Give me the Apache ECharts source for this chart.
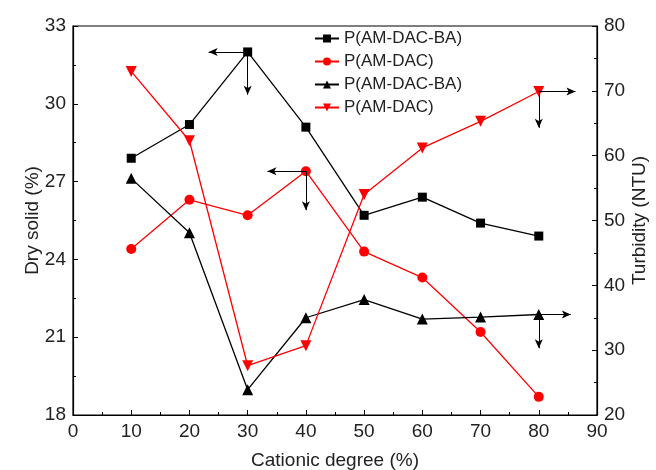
<!DOCTYPE html>
<html>
<head>
<meta charset="utf-8">
<script src="https://cdn.jsdelivr.net/npm/echarts@6/dist/echarts.min.js"></script>
<style>
  html, body { margin: 0; padding: 0; background: #fff; }
  #chart { width: 656px; height: 470px; }
</style>
</head>
<body>
<div id="chart"></div>
<script>
const degrees = [10, 20, 30, 40, 50, 60, 70, 80];
const drySolidBA = [27.9, 29.2, 32.0, 29.1, 25.7, 26.4, 25.4, 24.9];
const drySolidDAC = [24.4, 26.3, 25.7, 27.4, 24.3, 23.3, 21.2, 18.7];
const turbidityBA = [56.5, 48.1, 23.9, 35.0, 37.8, 34.8, 35.1, 35.5];
const turbidityDAC = [73.0, 62.3, 27.6, 30.7, 54.0, 61.2, 65.3, 69.9];

const font = 'Liberation Sans, Arial, sans-serif';
const pairs = vals => degrees.map((d, i) => [d, vals[i]]);

// arrows pointing to the axis each curve belongs to
const arrow = (from, to) => [{ coord: from }, { coord: to }];
const arrowStyle = {
  silent: true,
  symbol: ['none', 'arrow'],
  symbolSize: [6, 9],
  label: { show: false },
  lineStyle: { color: '#000', width: 1, type: 'solid' }
};

const chart = echarts.init(document.getElementById('chart'));

const axisCommon = {
  axisLine: { show: true, lineStyle: { color: '#000', width: 1.2 } },
  axisTick: { show: true, inside: true, length: 5, lineStyle: { color: '#000' } },
  minorTick: { show: true, splitNumber: 2, length: 3, lineStyle: { color: '#000' } },
  splitLine: { show: false },
  axisLabel: { color: '#222', fontSize: 19, fontFamily: font, margin: 7 },
  nameTextStyle: { color: '#222', fontSize: 19, fontFamily: font },
  nameMoveOverlap: false
};

chart.setOption({
  backgroundColor: '#fff',
  animation: false,
  grid: {
    left: 73, right: 59, top: 26, bottom: 55,
    outerBoundsMode: 'none',
    show: true, borderColor: '#000', borderWidth: 1.2
  },
  legend: {
    orient: 'vertical',
    left: 309,
    top: 25,
    itemGap: 6,
    itemWidth: 24,
    itemHeight: 10,
    textStyle: { color: '#222', fontSize: 17, fontFamily: font }
  },
  xAxis: {
    ...axisCommon,
    type: 'value',
    min: 0, max: 90, interval: 10,
    name: 'Cationic degree (%)',
    nameLocation: 'middle',
    nameGap: 36
  },
  yAxis: [
    {
      ...axisCommon,
      type: 'value',
      min: 18, max: 33, interval: 3,
      name: 'Dry solid (%)',
      nameLocation: 'middle',
      nameGap: 31
    },
    {
      ...axisCommon,
      type: 'value',
      position: 'right',
      min: 20, max: 80, interval: 10,
      name: 'Turbidity (NTU)',
      nameLocation: 'middle',
      nameGap: 33
    }
  ],
  series: [
    {
      name: 'P(AM-DAC-BA)',
      type: 'line',
      yAxisIndex: 0,
      data: pairs(drySolidBA),
      symbol: 'rect',
      symbolSize: 9,
      itemStyle: { color: '#000' },
      lineStyle: { color: '#000', width: 1.3 },
      markLine: { ...arrowStyle, data: [arrow([30, 32], [23.3, 32]), arrow([30, 32], [30, 30.35])] }
    },
    {
      name: 'P(AM-DAC)',
      type: 'line',
      yAxisIndex: 0,
      data: pairs(drySolidDAC),
      symbol: 'circle',
      symbolSize: 10,
      itemStyle: { color: '#f00' },
      lineStyle: { color: '#f00', width: 1.3 },
      markLine: { ...arrowStyle, data: [arrow([40, 27.4], [33.4, 27.4]), arrow([40, 27.4], [40, 25.9])] }
    },
    {
      name: 'P(AM-DAC-BA) ',
      type: 'line',
      yAxisIndex: 1,
      data: pairs(turbidityBA),
      symbol: 'triangle',
      symbolSize: 11,
      itemStyle: { color: '#000' },
      lineStyle: { color: '#000', width: 1.3 },
      markLine: { ...arrowStyle, data: [arrow([80, 35.5], [85.5, 35.5]), arrow([80, 35.5], [80, 30.3])] }
    },
    {
      name: 'P(AM-DAC) ',
      type: 'line',
      yAxisIndex: 1,
      data: pairs(turbidityDAC),
      symbol: 'triangle',
      symbolRotate: 180,
      symbolSize: 11,
      itemStyle: { color: '#f00' },
      lineStyle: { color: '#f00', width: 1.3 },
      markLine: { ...arrowStyle, data: [arrow([80, 69.9], [86.3, 69.9]), arrow([80, 69.9], [80, 64.3])] }
    }
  ]
});
</script>
</body>
</html>
